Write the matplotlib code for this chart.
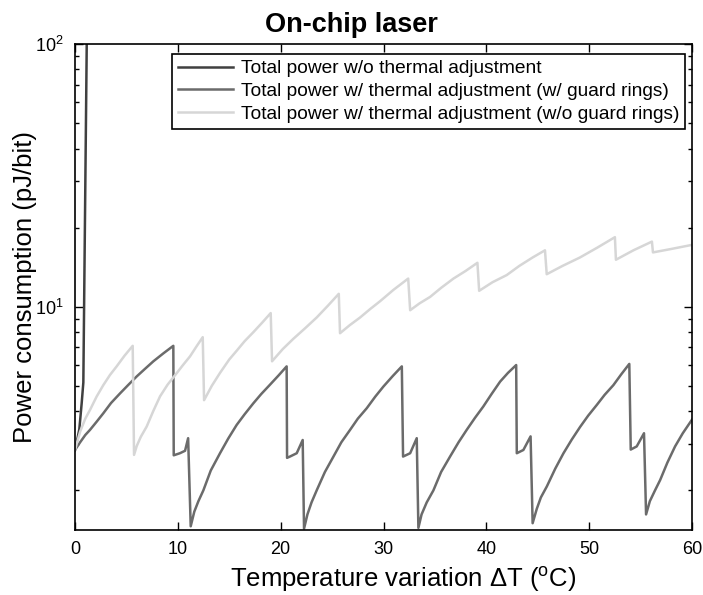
import matplotlib
matplotlib.use("Agg")
import matplotlib.pyplot as plt
from matplotlib.ticker import LogLocator, NullFormatter

plt.rcParams['font.family'] = ['Liberation Sans', 'DejaVu Sans']
plt.rcParams['mathtext.fontset'] = 'custom'
plt.rcParams['mathtext.rm'] = 'Liberation Sans'
plt.rcParams['mathtext.it'] = 'Liberation Sans:italic'

# total power without thermal adjustment
t_wo = [0, 0.2, 0.42, 0.65, 0.81, 0.9, 1.0, 1.14, 1.2]
p_wo = [2.85, 3.1, 3.42, 4.3, 5.15, 11.6, 28.5, 100, 130]

# with thermal adjustment, with guard rings
t_gr = [0, 0.5, 1.0, 1.46, 2.1, 2.75, 3.5, 4.38, 5.2, 6.0, 6.8, 7.62, 8.6, 9.56,
        9.6, 10.2, 10.7, 11.0, 11.25,
        11.6, 12.0, 12.48, 13.2, 14.1, 14.9, 15.72, 16.5, 17.34, 18.1, 18.96, 19.8, 20.58,
        20.62, 20.9, 21.56, 22.14, 22.27,
        22.6, 23.0, 23.5, 24.3, 25.13, 25.9, 26.75, 27.5, 28.37, 29.2, 29.99, 30.9, 31.78,
        31.9, 32.59, 33.23, 33.39,
        33.7, 34.2, 34.85, 35.6, 36.47, 37.3, 38.09, 38.9, 39.7, 40.5, 41.34, 42.1, 42.9,
        42.96, 43.6, 44.3, 44.5,
        44.9, 45.3, 45.88, 46.7, 47.5, 48.3, 49.12, 49.9, 50.74, 51.5, 52.35, 53.1, 53.9,
        54.04, 54.62, 55.33, 55.53,
        55.9, 56.4, 56.9, 57.6, 58.35, 59.1, 60.0]
p_gr = [2.85, 3.05, 3.25, 3.40, 3.65, 3.93, 4.3, 4.68, 5.05, 5.43, 5.8, 6.2, 6.65, 7.1,
        2.72, 2.77, 2.83, 3.16, 1.46,
        1.66, 1.82, 2.0, 2.38, 2.77, 3.15, 3.55, 3.9, 4.29, 4.65, 5.05, 5.48, 5.93,
        2.66, 2.69, 2.77, 3.11, 1.43,
        1.62, 1.8, 2.0, 2.35, 2.69, 3.05, 3.4, 3.75, 4.11, 4.55, 4.97, 5.45, 5.93,
        2.69, 2.77, 3.16, 1.44,
        1.62, 1.8, 2.0, 2.35, 2.69, 3.05, 3.4, 3.78, 4.17, 4.65, 5.19, 5.6, 6.0,
        2.77, 2.85, 3.21, 1.50,
        1.7, 1.88, 2.07, 2.42, 2.77, 3.12, 3.49, 3.85, 4.23, 4.62, 5.03, 5.52, 6.06,
        2.86, 2.94, 3.30, 1.62,
        1.82, 2.0, 2.19, 2.55, 2.94, 3.3, 3.72]

# with thermal adjustment, without guard rings
t_ng = [0, 0.5, 1.0, 1.46, 2.1, 2.75, 3.4, 4.05, 4.8, 5.61,
        5.74, 6.0, 6.4, 6.97, 7.6, 8.27, 9.0, 9.89, 10.5, 11.18, 11.8, 12.42,
        12.55, 13.3, 14.1, 15.0, 15.72, 16.5, 17.34, 18.2, 19.03,
        19.16, 20.2, 21.23, 22.4, 23.5, 24.6, 25.65,
        25.77, 26.7, 27.72, 28.7, 29.67, 30.97, 32.4,
        32.59, 33.5, 34.53, 35.6, 36.8, 38.0, 39.13,
        39.3, 40.6, 41.98, 43.2, 44.5, 45.7,
        45.87, 47.4, 49.1, 50.8, 52.5,
        52.6, 54.3, 56.1,
        56.2, 58.0, 60.0]
p_ng = [2.85, 3.35, 3.75, 4.05, 4.55, 5.03, 5.5, 5.93, 6.5, 7.1,
        2.73, 2.95, 3.2, 3.5, 4.0, 4.56, 5.05, 5.59, 6.0, 6.47, 7.05, 7.66,
        4.41, 5.0, 5.6, 6.3, 6.8, 7.4, 8.0, 8.7, 9.46,
        6.2, 6.9, 7.55, 8.3, 9.1, 10.1, 11.2,
        7.93, 8.5, 9.1, 9.8, 10.5, 11.6, 12.8,
        9.7, 10.3, 10.9, 11.8, 12.8, 13.7, 14.7,
        11.5, 12.4, 13.2, 14.3, 15.4, 16.4,
        13.3, 14.3, 15.4, 16.8, 18.4,
        15.1, 16.4, 17.7,
        16.1, 16.6, 17.2]

fig = plt.figure(figsize=(7.03, 5.95), dpi=100)
ax = fig.add_axes([0.1067, 0.1092, 0.8777, 0.8168])

ax.plot(t_wo, p_wo, color='#404040', lw=1.8,
        label='Total power w/o thermal adjustment')
ax.plot(t_gr, p_gr, color='#6b6b6b', lw=1.8,
        label='Total power w/ thermal adjustment (w/ guard rings)')
ax.plot(t_ng, p_ng, color='#d6d6d6', lw=1.8,
        label='Total power w/ thermal adjustment (w/o guard rings)')

ax.set_yscale('log')
ax.set_xlim(0, 60)
ax.set_ylim(1.413, 100)
ax.set_xticks([0, 10, 20, 30, 40, 50, 60])
ax.yaxis.set_major_locator(LogLocator(base=10, subs=[1.0]))
ax.yaxis.set_minor_locator(LogLocator(base=10, subs=range(2, 10)))
ax.yaxis.set_minor_formatter(NullFormatter())

ax.tick_params(which='both', direction='in', top=True, right=True,
               labelsize=13, width=1, pad=8)
ax.tick_params(which='major', length=6)
ax.tick_params(which='minor', length=3)
for s in ax.spines.values():
    s.set_linewidth(1.2)

ax.set_xlabel(r'Temperature variation $\Delta$T ($^{\rm o}$C)', fontsize=18.5)
ax.xaxis.set_label_coords(0.532, -0.071)
ax.set_ylabel('Power consumption (pJ/bit)', fontsize=18.5, labelpad=-1)
ax.set_title('On-chip laser', fontsize=19.5, fontweight='bold', pad=9, x=0.448)

leg = ax.legend(loc='upper right', bbox_to_anchor=(0.989, 0.979), fontsize=13.8,
                fancybox=False, framealpha=1, edgecolor='black',
                handlelength=2.9, labelspacing=0.28, borderpad=0.3,
                handletextpad=0.4, borderaxespad=0)
leg.get_frame().set_linewidth(1.2)

fig.savefig('out.png', dpi=100)
